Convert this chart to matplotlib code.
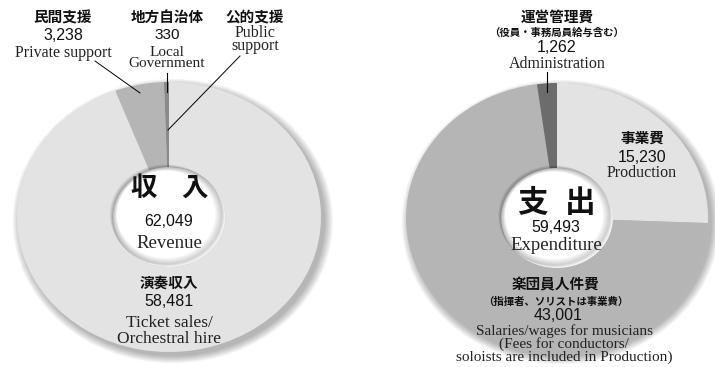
import numpy as np
import matplotlib.pyplot as plt
from matplotlib.patches import Ellipse, Wedge

# revenue (unit: 10,000 yen)
rev_labels_jp = ['地方自治体', '民間支援', '演奏収入', '公的支援']
rev_values = [330, 3238, 58481, 0]
rev_total = 62049
rev_colors = ['#8a8a8a', '#b5b5b5', '#e3e3e3', '#e3e3e3']

# expenditure
exp_labels_jp = ['事業費', '楽団員人件費', '運営管理費']
exp_values = [15230, 43001, 1262]
exp_total = 59493
exp_colors = ['#e3e3e3', '#b5b5b5', '#6c6c6c']

W, H = 715, 367
fig = plt.figure(figsize=(W / 100, H / 100), dpi=100)

JP = ['Noto Sans CJK JP', 'DejaVu Sans']
NUM = 'Liberation Sans'
EN = 'Liberation Serif'
PAD = 1.15


def donut(cx, cy, rx, ry, values, colors, counterclock):
    # axes placed around an elliptical donut, pixel coords from top-left
    x0, x1 = cx - PAD * rx, cx + PAD * rx
    y0, y1 = cy - PAD * ry, cy + PAD * ry
    ax = fig.add_axes([x0 / W, 1 - y1 / H, (x1 - x0) / W, (y1 - y0) / H])
    # soft drop shadow
    for i in range(10):
        s = 1.0 + 0.006 * i
        ax.add_patch(Ellipse((0.025, -0.03), 2 * s, 2 * s, color='k',
                             alpha=0.03, lw=0, zorder=0))
    ax.pie(values, colors=colors, startangle=90, counterclock=counterclock,
           radius=1, wedgeprops=dict(width=0.63, linewidth=0))
    # inner shadow of the hole
    r_in = 0.37
    ax.add_patch(Ellipse((0, 0), 2 * r_in, 2 * r_in, color='white', lw=0, zorder=3))
    for i in range(12):
        ax.add_patch(Wedge((-0.0018 * i, 0.0018 * i), r_in, 0, 360,
                           width=0.004 * (i + 1), color='k', alpha=0.025,
                           lw=0, zorder=4))
    ax.set_aspect('auto')
    ax.set_xlim(-PAD, PAD)
    ax.set_ylim(-PAD, PAD)
    ax.axis('off')
    return ax


donut(169, 217, 152, 135, rev_values, rev_colors, True)
donut(557, 218, 151, 135, exp_values, exp_colors, False)

# overlay for labels and leader lines, pixel coordinates
ov = fig.add_axes([0, 0, 1, 1])
ov.set_xlim(0, W)
ov.set_ylim(H, 0)
ov.axis('off')


def jp(x, y, s, size=10.5):
    ov.text(x, y, s, ha='center', va='center', fontsize=size,
            family=JP, fontweight='bold', color='#111111')


def num(x, y, v, size=11.5):
    ov.text(x, y, f'{v:,}', ha='center', va='center', fontsize=size,
            family=NUM, color='#111111')


def en(x, y, s, size=11.5, ls=1.0):
    ov.text(x, y, s, ha='center', va='center', fontsize=size,
            family=EN, color='#222222', linespacing=ls, multialignment='center')


# revenue labels
jp(63, 17, rev_labels_jp[1])
num(63, 36, rev_values[1])
en(63, 53, 'Private support')
ov.plot([95, 140], [61, 93], color='k', lw=0.7)

jp(167, 17, rev_labels_jp[0])
num(167, 35, rev_values[0], 11)
en(167, 58, 'Local\nGovernment', 11, 0.85)
ov.plot([167, 167], [73, 92], color='k', lw=0.8)

jp(255, 17, rev_labels_jp[3])
en(255, 39.5, 'Public\nsupport', 11.5, 0.77)
ov.plot([240, 168], [56, 130], color='k', lw=0.7)

ov.text(144, 188, '収', ha='center', va='center', fontsize=19,
        family=JP, fontweight='bold', color='#111111')
ov.text(194, 188, '入', ha='center', va='center', fontsize=19,
        family=JP, fontweight='bold', color='#111111')
num(169, 222, rev_total)
en(169, 243, 'Revenue', 13.5)

jp(169, 283, rev_labels_jp[2])
num(169, 302, rev_values[2])
en(169, 331, 'Ticket sales/\nOrchestral hire', 12.5, 1.04)

# expenditure labels
jp(557, 17, exp_labels_jp[2])
ov.text(557, 33, '（役員・事務局員給与含む）', ha='center', va='center',
        fontsize=7.5, family=JP, fontweight='bold', color='#111111')
num(557, 48, exp_values[2])
en(557, 64, 'Administration')
ov.plot([547, 547], [72, 92], color='k', lw=0.8)

jp(642, 138, exp_labels_jp[0])
num(642, 157, exp_values[0])
en(642, 173, 'Production')

ov.text(532, 203, '支', ha='center', va='center', fontsize=22,
        family=JP, fontweight='bold', color='#111111')
ov.text(580, 203, '出', ha='center', va='center', fontsize=22,
        family=JP, fontweight='bold', color='#111111')
num(556, 228, exp_total)
en(556, 245, 'Expenditure', 13.5)

jp(556, 284, exp_labels_jp[1])
ov.text(556, 302, '（指揮者、ソリストは事業費）', ha='center', va='center',
        fontsize=7.5, family=JP, fontweight='bold', color='#111111')
num(558, 316, exp_values[1])
en(564, 344, 'Salaries/wages for musicians\n(Fees for conductors/\n'
    'soloists are included in Production)', 11, 0.9)

fig.savefig('out.png', dpi=100)
